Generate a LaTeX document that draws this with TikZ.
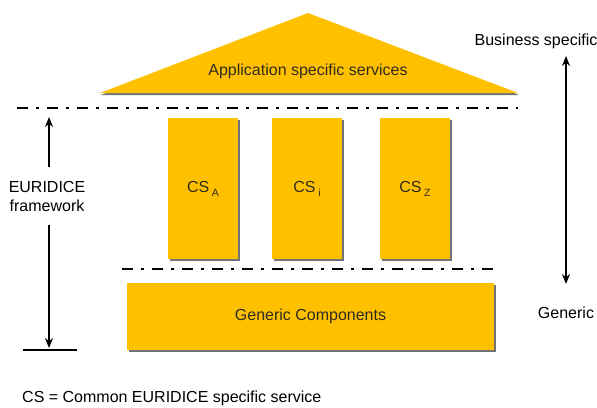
\documentclass[tikz,border=0pt]{standalone}
\usepackage{fontspec}
\setmainfont{Liberation Sans}
\usetikzlibrary{arrows.meta,shadows,positioning}
\definecolor{pillar}{RGB}{255,192,0}
\definecolor{ink}{RGB}{48,44,30}
\newcommand{\cssub}[1]{CS\,\raisebox{-4pt}{\fontsize{10.5}{11}\selectfont #1}}

\begin{document}
\begin{tikzpicture}[x=1pt,y=-1pt,
  every node/.style={font=\fontsize{16}{19}\selectfont},
  block/.style={fill=pillar,text=ink,inner sep=0pt,
    drop shadow={shadow xshift=2pt,shadow yshift=-2pt,fill=black!55,opacity=1}},
  column/.style={block,minimum width=70pt,minimum height=141pt},
  sepline/.style={line width=2.4pt,dash pattern=on 11pt off 8pt on 3pt off 8pt},
  span/.style={line width=1.6pt,-{Stealth[length=10pt,width=8pt]}}]
\useasboundingbox (0,0) rectangle (597,407);

% roof
\coordinate (roofL) at (100,93);
\coordinate (roofT) at (308,13);
\coordinate (roofR) at (518,93);
\path[fill=pillar,drop shadow={shadow xshift=1pt,shadow yshift=-2pt,fill=black!55,opacity=1}]
  (roofL) -- (roofT) -- (roofR) -- cycle;
\node[text=ink] (apps) at (308,71) {Application specific services};

% separator lines
\coordinate (topL) at (17,108);
\coordinate (topR) at (518,108);
\coordinate (lowL) at (122,269);
\coordinate (lowR) at (500,269);
\draw[sepline] (topL) -- (topR);
\draw[sepline] (lowL) -- (lowR);

% pillars
\node[column] (csA) at (203,188.5) {\cssub{A}};
\node[column] (csI) at (307,188.5) {\cssub{i}};
\node[column] (csZ) at (415,188.5) {\cssub{Z}};

% base
\node[block,minimum width=367pt,minimum height=67pt] (generic) at (310.5,316.5) {Generic Components};

% left scale
\node[align=center,inner ysep=14pt] (frame) at (47,196) {EURIDICE\\framework};
\coordinate (frameTop) at (49,117);
\coordinate (frameBot) at (49,348);
\coordinate (baseL) at (23,350);
\coordinate (baseR) at (77,350);
\draw[span] (frame.north -| frameTop) -- (frameTop);
\draw[span] (frame.south -| frameBot) -- (frameBot);
\draw[line width=1.6pt] (baseL) -- (baseR);

% right scale
\node (business) at (536,41) {Business specific};
\node (genlabel) at (566,313) {Generic};
\coordinate (bizTip) at (566,56);
\coordinate (genTip) at (566,284);
\draw[span,{Stealth[length=10pt,width=8pt]}-{Stealth[length=10pt,width=8pt]}] (bizTip) -- (genTip);

% legend
\node[anchor=west,inner sep=0pt] (legend) at (22,398) {CS = Common EURIDICE specific service};
\end{tikzpicture}
\end{document}
